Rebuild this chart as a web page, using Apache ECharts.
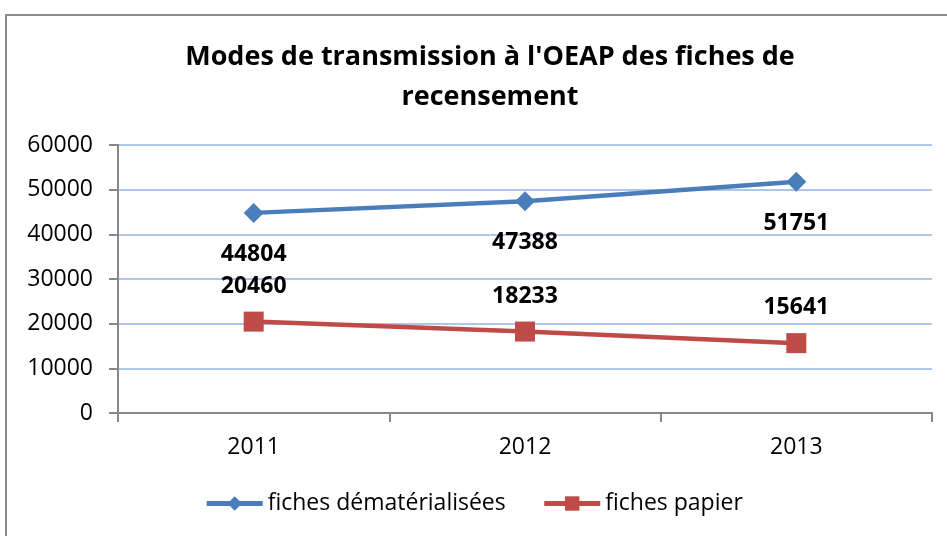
<!DOCTYPE html>
<html>
<head>
<meta charset="utf-8">
<script src="https://cdn.jsdelivr.net/npm/echarts@6/dist/echarts.min.js"></script>
<style>
  html, body { margin: 0; padding: 0; background: #fff; }
  #frame { position: absolute; left: 5px; top: 14px; width: 945px; height: 530px; border: 2px solid #8c8c8c; box-sizing: border-box; }
  #main { position: absolute; left: 0; top: 0; width: 947px; height: 536px; }
</style>
</head>
<body>
<div id="frame"></div>
<div id="main"></div>
<script>
var years = ['2011', '2012', '2013']
var dematerialisees = [44804, 47388, 51751]
var papier = [20460, 18233, 15641]

var chart = echarts.init(document.getElementById('main'))
var font = 'Open Sans, Liberation Sans, sans-serif'

var option = {
  animation: false,
  textStyle: { fontFamily: font },
  title: {
    text: "Modes de transmission à l'OEAP des fiches de\nrecensement",
    left: 485,
    textAlign: 'center',
    top: 32,
    textStyle: { fontSize: 27, fontWeight: 'bold', color: '#000', lineHeight: 40, fontFamily: font }
  },
  legend: {
    bottom: 16,
    left: 'center',
    itemWidth: 56,
    itemHeight: 18,
    itemGap: 36,
    lineStyle: { width: 5 },
    textStyle: { fontSize: 23, color: '#000', fontFamily: font },
    data: ['fiches dématérialisées', 'fiches papier']
  },
  grid: { left: 118, right: 15, top: 145, bottom: 123 },
  xAxis: {
    type: 'category',
    data: years,
    axisLine: { lineStyle: { color: '#888', width: 2 } },
    axisTick: { show: true, length: 9, lineStyle: { color: '#888', width: 2 } },
    axisLabel: { fontSize: 23, color: '#000', margin: 23 }
  },
  yAxis: {
    type: 'value',
    min: 0,
    max: 60000,
    interval: 10000,
    axisLine: { show: true, lineStyle: { color: '#888', width: 2 } },
    axisTick: { show: true, length: 9, lineStyle: { color: '#888', width: 2 } },
    axisLabel: { fontSize: 23, color: '#000', margin: 25, formatter: function (v) { return String(v) } },
    splitLine: { lineStyle: { color: '#93b3df', width: 1.5 } }
  },
  series: [
    {
      name: 'fiches dématérialisées',
      type: 'line',
      data: dematerialisees,
      symbol: 'diamond',
      symbolSize: 20,
      color: '#4a7ebb',
      lineStyle: { width: 4.5, color: '#4a7ebb' },
      label: { show: true, position: 'bottom', distance: 20, fontSize: 23, fontWeight: 'bold', color: '#000', fontFamily: font }
    },
    {
      name: 'fiches papier',
      type: 'line',
      data: papier,
      symbol: 'rect',
      symbolSize: 20,
      color: '#be4b48',
      lineStyle: { width: 4.5, color: '#be4b48' },
      label: { show: true, position: 'top', distance: 14, fontSize: 23, fontWeight: 'bold', color: '#000', fontFamily: font }
    }
  ]
}

chart.setOption(option)
</script>
</body>
</html>
